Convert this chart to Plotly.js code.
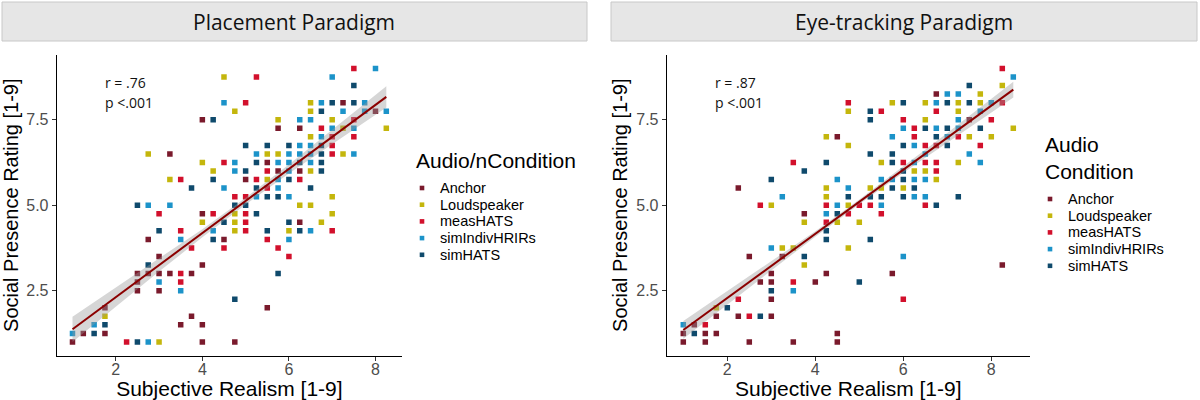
<!DOCTYPE html>
<html>
<head>
<meta charset="utf-8">
<script src="https://cdn.plot.ly/plotly-3.0.1.min.js"></script>
<style>
  html, body { margin: 0; padding: 0; background: #fff; }
  #chart { width: 1200px; height: 400px; }
</style>
</head>
<body>
<div id="chart"></div>
<script>
// conditions shared by both panels
var conditions = ['Anchor', 'Loudspeaker', 'measHATS', 'simIndivHRIRs', 'simHATS'];
var colors = ['#7A1A2C', '#C4B60C', '#D2102C', '#1C93C9', '#0F4A6C'];

// ---- Placement Paradigm (left) ----
var place_anchor_x = [4.0, 7.25, 8.0, 5.75, 6.25, 3.25, 5.5, 5.75, 6.25, 5.0, 4.0, 6.25, 2.75, 4.5, 3.0, 4.0, 2.5, 2.75, 3.0, 3.25, 3.75, 2.5, 2.5, 3.0, 1.75, 5.5, 3.75, 3.5, 4.0, 1.25, 1.75, 1.0, 4.0, 4.75];
var place_anchor_y = [7.5, 8.0, 7.75, 7.25, 7.25, 6.5, 6.25, 6.0, 6.0, 5.75, 4.75, 4.5, 4.0, 4.0, 3.5, 3.25, 3.0, 3.0, 3.0, 3.0, 3.0, 2.75, 2.5, 2.5, 2.0, 2.0, 1.75, 1.5, 1.5, 1.25, 1.25, 1.0, 1.0, 1.0];
var place_loud_x = [4.5, 6.5, 4.75, 6.5, 5.75, 7.0, 7.25, 8.25, 6.5, 2.75, 5.5, 5.75, 7.25, 4.0, 4.25, 6.5, 3.25, 5.5, 7.0, 6.25, 6.5, 4.75, 7.0, 4.0, 4.75, 6.75, 4.75, 6.0, 1.75, 3.0];
var place_loud_y = [8.75, 8.0, 7.75, 7.75, 7.5, 7.5, 7.25, 7.25, 7.0, 6.5, 6.5, 6.5, 6.5, 6.25, 6.0, 6.0, 5.75, 5.75, 5.25, 5.0, 5.0, 4.75, 4.75, 4.5, 4.5, 4.5, 4.25, 4.25, 1.75, 1.0];
var place_meas_x = [7.5, 5.25, 5.0, 7.5, 6.75, 7.0, 7.5, 7.0, 7.0, 4.5, 5.5, 3.5, 5.25, 6.25, 5.5, 4.75, 5.0, 3.0, 4.25, 5.0, 5.0, 3.5, 5.0, 7.0, 5.5, 3.75, 4.5, 5.75, 6.0, 3.5, 3.5, 2.25];
var place_meas_y = [9.0, 8.75, 8.0, 7.5, 7.25, 7.0, 7.0, 6.75, 6.5, 6.25, 6.0, 5.75, 5.75, 5.75, 5.5, 5.25, 5.25, 4.75, 4.75, 4.75, 4.5, 4.25, 4.25, 4.25, 4.0, 3.75, 3.75, 3.75, 3.5, 3.0, 2.75, 1.0];
var place_indiv_x = [8.0, 7.0, 4.5, 6.75, 7.75, 7.25, 7.75, 8.25, 6.25, 6.5, 7.0, 7.5, 6.75, 6.25, 6.5, 5.25, 6.0, 6.25, 6.5, 7.5, 4.75, 5.75, 6.0, 6.5, 4.75, 6.0, 5.75, 4.5, 5.75, 5.25, 6.0, 2.75, 3.25, 4.25, 6.5, 3.5, 6.0, 3.0, 3.5, 1.5, 1.0, 2.75];
var place_indiv_y = [9.0, 8.75, 8.0, 8.0, 8.0, 7.75, 7.75, 7.75, 7.5, 7.5, 7.25, 7.25, 7.0, 6.75, 6.75, 6.5, 6.5, 6.5, 6.5, 6.5, 6.25, 6.25, 6.25, 6.25, 6.0, 6.0, 5.75, 5.5, 5.5, 5.25, 5.25, 5.0, 5.0, 4.25, 4.25, 4.0, 4.0, 2.75, 2.5, 1.5, 1.25, 1.0];
var place_sim_x = [7.5, 7.0, 7.5, 6.75, 4.25, 5.0, 5.5, 6.0, 6.75, 6.75, 5.25, 6.25, 6.75, 5.0, 6.75, 4.25, 6.0, 3.75, 5.25, 6.5, 5.5, 5.75, 2.5, 4.75, 5.0, 5.25, 4.5, 6.0, 3.0, 5.5, 6.25, 4.25, 2.75, 5.75, 4.75, 1.75, 1.5, 2.5];
var place_sim_y = [8.5, 8.0, 8.0, 7.75, 7.5, 6.75, 6.75, 6.75, 6.75, 6.5, 6.25, 6.25, 6.25, 6.0, 6.0, 5.75, 5.75, 5.5, 5.5, 5.5, 5.25, 5.25, 5.0, 5.0, 5.0, 4.75, 4.5, 4.5, 4.25, 4.25, 4.25, 4.0, 3.25, 3.0, 2.25, 1.5, 1.25, 1.0];
// fitted line and confidence band
var place_fit_x = [1, 2, 3, 4, 5, 6, 7, 8.25];
var place_fit_y = [1.37, 2.31, 3.25, 4.18, 5.12, 6.06, 7.0, 8.17];
var place_lo = [1.00, 2.03, 3.06, 4.06, 5.02, 5.93, 6.79, 7.86];
var place_hi = [1.74, 2.59, 3.44, 4.30, 5.22, 6.19, 7.21, 8.48];

// ---- Eye-tracking Paradigm (right) ----
var eye_anchor_x = [6.75, 4.5, 7.5, 2.25, 3.75, 3.25, 2.5, 8.25, 3.0, 4.25, 5.75, 2.75, 3.0, 4.0, 3.0, 1.75, 2.25, 3.0, 1.25, 1.0, 1.5, 1.75, 4.5, 1.0, 1.5, 2.5, 3.5, 4.5];
var eye_anchor_y = [8.25, 7.0, 7.5, 5.5, 4.75, 3.5, 3.5, 3.25, 3.0, 3.0, 3.0, 2.75, 2.75, 2.75, 2.25, 1.75, 1.75, 1.75, 1.5, 1.25, 1.25, 1.25, 1.25, 1.0, 1.0, 1.0, 1.0, 1.0];
var eye_loud_x = [8.25, 7.75, 5.75, 6.5, 7.25, 7.75, 4.75, 7.25, 6.5, 8.5, 4.25, 7.5, 8.0, 4.75, 5.5, 7.25, 6.25, 6.5, 6.75, 4.25, 5.25, 5.5, 6.0, 4.25, 3.0, 4.75, 3.75, 4.5, 5.0, 3.25, 3.5, 4.75, 3.75, 1.75];
var eye_loud_y = [8.5, 8.25, 8.0, 8.0, 8.0, 8.0, 7.75, 7.75, 7.5, 7.25, 7.0, 7.0, 7.0, 6.75, 6.25, 6.25, 6.0, 6.0, 5.75, 5.5, 5.5, 5.5, 5.5, 5.25, 5.0, 5.0, 4.5, 4.5, 4.5, 3.75, 3.75, 3.75, 3.25, 2.0];
var eye_meas_x = [8.25, 4.75, 5.5, 6.75, 6.0, 8.0, 6.25, 6.25, 7.25, 6.5, 7.75, 3.5, 6.0, 6.5, 6.75, 6.75, 2.75, 4.25, 5.25, 6.5, 5.5, 3.5, 6.0, 2.5, 1.5, 8.25, 6.75, 5.0, 4.75, 4.25, 2.25];
var eye_meas_y = [9.0, 8.0, 7.75, 7.75, 7.5, 7.5, 7.25, 7.0, 7.0, 6.75, 6.75, 6.25, 6.25, 6.25, 6.25, 6.0, 5.0, 5.0, 5.0, 5.0, 4.75, 2.75, 2.25, 1.75, 1.5, 8.0, 6.75, 5.0, 4.75, 4.5, 2.25];
var eye_indiv_x = [8.5, 7.0, 7.25, 6.75, 8.0, 7.75, 7.25, 6.0, 6.75, 7.25, 5.75, 7.0, 6.25, 6.5, 7.5, 6.25, 7.75, 4.5, 5.5, 5.75, 6.25, 6.5, 4.75, 3.25, 6.25, 6.5, 4.5, 5.5, 4.25, 3.0, 6.0, 3.5, 1.0];
var eye_indiv_y = [8.75, 8.25, 8.25, 8.0, 8.0, 7.75, 7.5, 7.25, 7.25, 7.25, 7.0, 7.0, 6.75, 6.5, 6.5, 6.25, 6.25, 5.75, 5.75, 5.75, 5.75, 5.75, 5.5, 5.25, 5.25, 5.25, 5.0, 5.0, 4.75, 3.75, 3.5, 2.5, 1.5];
var eye_sim_x = [7.5, 6.0, 7.0, 7.5, 5.25, 5.25, 6.5, 7.0, 7.75, 6.75, 6.0, 7.0, 5.25, 5.75, 4.25, 5.75, 3.75, 6.0, 3.0, 6.0, 5.75, 6.25, 4.75, 5.25, 5.5, 6.0, 7.25, 6.75, 4.5, 4.25, 4.25, 5.25, 3.75, 5.0, 3.0, 2.0, 2.75, 1.25];
var eye_sim_y = [8.5, 8.0, 8.0, 8.0, 7.75, 7.5, 7.25, 7.25, 7.25, 7.0, 6.75, 6.75, 6.5, 6.5, 6.25, 6.25, 6.0, 6.0, 5.75, 5.75, 5.5, 5.5, 5.25, 5.25, 5.25, 5.25, 5.25, 5.0, 4.75, 4.25, 4.0, 4.0, 3.5, 2.75, 2.5, 2.0, 1.75, 1.25];
var eye_fit_x = [1, 2, 3, 4, 5, 6, 7, 8.5];
var eye_fit_y = [1.35, 2.29, 3.22, 4.16, 5.10, 6.04, 6.97, 8.38];
var eye_lo = [1.09, 2.10, 3.09, 4.08, 5.03, 5.95, 6.83, 8.15];
var eye_hi = [1.61, 2.48, 3.35, 4.24, 5.17, 6.13, 7.11, 8.61];

var panels = [
  {
    xa: 'x', ya: 'y',
    xs: [place_anchor_x, place_loud_x, place_meas_x, place_indiv_x, place_sim_x],
    ys: [place_anchor_y, place_loud_y, place_meas_y, place_indiv_y, place_sim_y],
    fitx: place_fit_x, fity: place_fit_y, lo: place_lo, hi: place_hi,
    // legend placement in pixels
    legTitle: 'Audio/nCondition', legTitleX: 414, legTitleY: 160,
    legKeyX: 422, legTextX: 439, legY0: 188
  },
  {
    xa: 'x2', ya: 'y2',
    xs: [eye_anchor_x, eye_loud_x, eye_meas_x, eye_indiv_x, eye_sim_x],
    ys: [eye_anchor_y, eye_loud_y, eye_meas_y, eye_indiv_y, eye_sim_y],
    fitx: eye_fit_x, fity: eye_fit_y, lo: eye_lo, hi: eye_hi,
    legTitle: 'Audio<br>Condition', legTitleX: 1043, legTitleY: 158,
    legKeyX: 1050, legTextX: 1067, legY0: 199
  }
];

var data = [];
var shapes = [];
var annotations = [];
var W = 1200, H = 400;

for (var p = 0; p < panels.length; p++) {
  var pn = panels[p];
  for (var i = 0; i < conditions.length; i++) {
    data.push({
      x: pn.xs[i],
      y: pn.ys[i],
      xaxis: pn.xa,
      yaxis: pn.ya,
      type: 'scatter',
      mode: 'markers',
      name: conditions[i],
      showlegend: false,
      marker: { symbol: 'square', size: 5.5, color: colors[i] },
      hoverinfo: 'x+y+name'
    });
  }
  // confidence band drawn over the points, like geom_smooth
  var bx = pn.fitx.concat(pn.fitx.slice().reverse());
  var by = pn.hi.concat(pn.lo.slice().reverse());
  data.push({
    x: bx, y: by, xaxis: pn.xa, yaxis: pn.ya,
    type: 'scatter', mode: 'lines', fill: 'toself',
    fillcolor: 'rgba(153,153,153,0.4)', line: { width: 0 },
    showlegend: false, hoverinfo: 'skip'
  });
  data.push({
    x: pn.fitx, y: pn.fity, xaxis: pn.xa, yaxis: pn.ya,
    type: 'scatter', mode: 'lines',
    line: { color: '#8B0000', width: 2 },
    showlegend: false, hoverinfo: 'skip'
  });

  // legend (drawn by hand: ggplot keys sit closer than plotly's legend allows)
  annotations.push({
    text: pn.legTitle, xref: 'paper', yref: 'paper',
    x: pn.legTitleX / W, y: 1 - pn.legTitleY / H,
    xanchor: 'left', yanchor: 'middle', align: 'left',
    showarrow: false,
    font: { family: 'Liberation Sans, Arial, sans-serif', size: 21, color: '#000' }
  });
  for (var i = 0; i < conditions.length; i++) {
    var cy = pn.legY0 + i * 16.7;
    shapes.push({
      type: 'rect', xref: 'paper', yref: 'paper',
      x0: (pn.legKeyX - 2.3) / W, x1: (pn.legKeyX + 2.3) / W,
      y0: 1 - (cy + 2.3) / H, y1: 1 - (cy - 2.3) / H,
      fillcolor: colors[i], line: { width: 0 }
    });
    annotations.push({
      text: conditions[i], xref: 'paper', yref: 'paper',
      x: pn.legTextX / W, y: 1 - cy / H, xanchor: 'left', yanchor: 'middle',
      showarrow: false, borderpad: 0,
      font: { family: 'Liberation Sans, Arial, sans-serif', size: 14.5, color: '#000' }
    });
  }
}

var axisFont = { family: 'Liberation Sans, Arial, sans-serif', size: 16, color: '#4D4D4D' };

function xAxis(domain, range, anchor) {
  return {
    domain: domain, range: range, anchor: anchor,
    showline: true, linecolor: '#000', linewidth: 1.1, mirror: false,
    showgrid: false, zeroline: false,
    ticks: 'outside', ticklen: 4, tickcolor: '#333', tickwidth: 1,
    ticklabelstandoff: -5,
    tickvals: [2, 4, 6, 8], tickfont: axisFont,
    title: { text: 'Subjective Realism [1-9]', standoff: 2,
      font: { family: 'Liberation Sans, Arial, sans-serif', size: 21, color: '#000' } }
  };
}
function yAxis(domain, anchor) {
  return {
    domain: domain, range: [0.6, 9.4], anchor: anchor,
    showline: true, linecolor: '#000', linewidth: 1.1, mirror: false,
    showgrid: false, zeroline: false,
    ticks: 'outside', ticklen: 4, tickcolor: '#333', tickwidth: 1,
    tickvals: [2.5, 5, 7.5], ticktext: ['2.5', '5.0', '7.5'], tickfont: axisFont,
    title: { text: 'Social Presence Rating [1-9]', standoff: 3,
      font: { family: 'Liberation Sans, Arial, sans-serif', size: 20, color: '#000' } }
  };
}

var yDom = [0.111, 0.863];
var stripFont = { family: 'Open Sans, sans-serif', size: 21, color: '#111' };
var statFont = { family: 'Open Sans, sans-serif', size: 14, color: '#111' };

// facet strips
shapes.push(
  { type: 'rect', xref: 'paper', yref: 'paper', x0: 2 / W, x1: 587 / W, y0: 1 - 41 / H, y1: 1 - 2 / H,
    fillcolor: '#E6E6E6', line: { color: '#C8C8C8', width: 1 }, layer: 'below' },
  { type: 'rect', xref: 'paper', yref: 'paper', x0: 611 / W, x1: 1197 / W, y0: 1 - 41 / H, y1: 1 - 2 / H,
    fillcolor: '#E6E6E6', line: { color: '#C8C8C8', width: 1 }, layer: 'below' }
);
annotations.push(
  { text: 'Placement Paradigm', xref: 'paper', yref: 'paper', x: 294 / W, y: 1 - 22 / H,
    showarrow: false, font: stripFont, xanchor: 'center', yanchor: 'middle' },
  { text: 'Eye-tracking Paradigm', xref: 'paper', yref: 'paper', x: 904 / W, y: 1 - 22 / H,
    showarrow: false, font: stripFont, xanchor: 'center', yanchor: 'middle' },
  { text: 'r = .76', xref: 'x', yref: 'y', x: 1.7, y: 8.58, showarrow: false, font: statFont, xanchor: 'left' },
  { text: 'p <.001', xref: 'x', yref: 'y', x: 1.7, y: 8.0, showarrow: false, font: statFont, xanchor: 'left' },
  { text: 'r = .87', xref: 'x2', yref: 'y2', x: 1.68, y: 8.58, showarrow: false, font: statFont, xanchor: 'left' },
  { text: 'p <.001', xref: 'x2', yref: 'y2', x: 1.68, y: 8.0, showarrow: false, font: statFont, xanchor: 'left' }
);

var layout = {
  width: W, height: H,
  margin: { l: 0, r: 0, t: 0, b: 0 },
  paper_bgcolor: '#fff', plot_bgcolor: '#fff',
  xaxis: xAxis([56.8 / W, 402 / W], [0.6375, 8.6125], 'y'),
  yaxis: yAxis(yDom, 'x'),
  xaxis2: xAxis([666.8 / W, 1029.8 / W], [0.625, 8.875], 'y2'),
  yaxis2: yAxis(yDom, 'x2'),
  shapes: shapes,
  annotations: annotations,
  showlegend: false
};

Plotly.newPlot('chart', data, layout, { displayModeBar: false, staticPlot: true });
</script>
</body>
</html>
